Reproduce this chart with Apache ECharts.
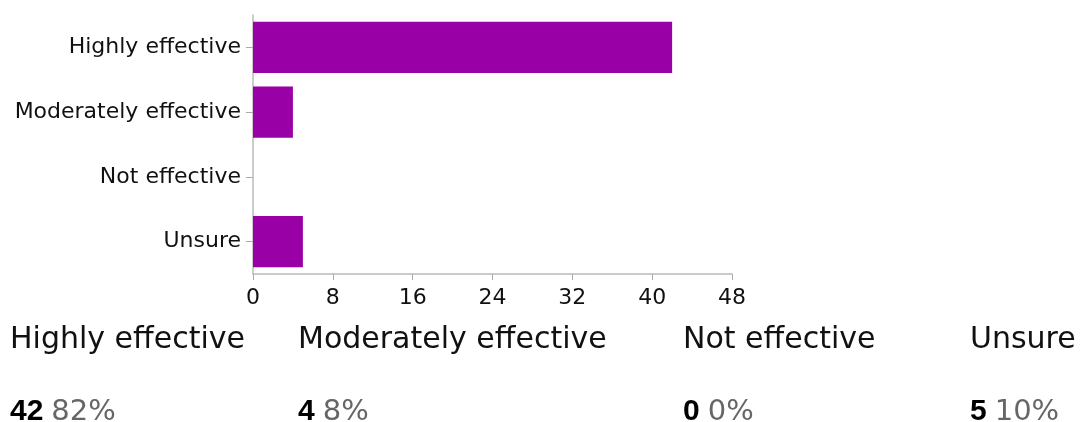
<!DOCTYPE html>
<html>
<head>
<meta charset="utf-8">
<script src="https://cdn.jsdelivr.net/npm/echarts@6/dist/echarts.min.js"></script>
<style>
  html, body { margin: 0; padding: 0; background: #fff; }
  #chart { width: 1083px; height: 422px; }
</style>
</head>
<body>
<div id="chart"></div>
<script>
const categories = ["Highly effective", "Moderately effective", "Not effective", "Unsure"];
const counts = [42, 4, 0, 5];
const percentLabels = ["82%", "8%", "0%", "10%"];
const xTicks = [0, 8, 16, 24, 32, 40, 48];

const summaryX = [10, 298, 683, 970];

const chart = echarts.init(document.getElementById('chart'), null, { renderer: 'canvas' });

const graphics = [];
categories.forEach((c, i) => {
  graphics.push({
    type: 'text',
    x: summaryX[i],
    y: 340,
    style: {
      text: c,
      fill: '#111',
      font: '30px "DejaVu Sans"',
      verticalAlign: 'middle',
      align: 'left'
    }
  });
  graphics.push({
    type: 'text',
    x: summaryX[i],
    y: 412,
    style: {
      text: '{n|' + counts[i] + '}{p|' + percentLabels[i] + '}',
      verticalAlign: 'middle',
      align: 'left',
      rich: {
        n: { fontFamily: 'Liberation Sans', fontWeight: 'bold', fontSize: 30, fill: '#000' },
        p: { fontFamily: 'DejaVu Sans', fontSize: 29, fill: '#666', padding: [0, 0, 0, 8] }
      }
    }
  });
});

chart.setOption({
  animation: false,
  backgroundColor: '#fff',
  grid: { left: 253, right: 351, top: 15, height: 259, containLabel: false },
  xAxis: {
    type: 'value',
    min: xTicks[0],
    max: xTicks[xTicks.length - 1],
    interval: xTicks[1] - xTicks[0],
    axisLine: { show: true, lineStyle: { color: '#bbb', width: 1.5 } },
    axisTick: { show: true, length: 6, lineStyle: { color: '#aaa' } },
    splitLine: { show: false },
    axisLabel: { margin: 13, fontFamily: 'DejaVu Sans', fontSize: 22, color: '#111' }
  },
  yAxis: {
    type: 'category',
    data: categories,
    inverse: true,
    axisLine: { show: true, lineStyle: { color: '#bbb', width: 1.5 } },
    axisTick: { show: true, alignWithLabel: true, length: 7, lineStyle: { color: '#aaa' } },
    axisLabel: { margin: 12, fontFamily: 'DejaVu Sans', fontSize: 22, color: '#111' }
  },
  series: [{
    type: 'bar',
    data: counts,
    barCategoryGap: '21%',
    itemStyle: { color: '#9900a6' }
  }],
  graphic: graphics
});
</script>
</body>
</html>
